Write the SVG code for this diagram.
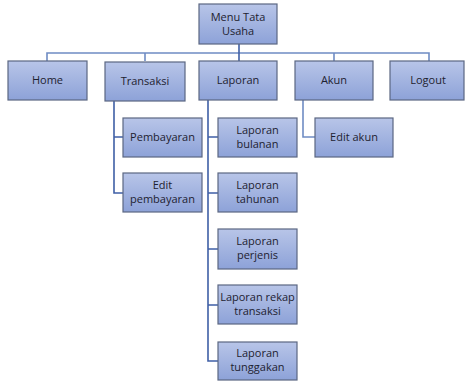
<svg xmlns="http://www.w3.org/2000/svg" width="465" height="381" viewBox="0 0 465 381">
<defs>
<linearGradient id="g" x1="0" y1="0" x2="0" y2="1">
<stop offset="0" stop-color="#b8c5e8"/>
<stop offset="1" stop-color="#8da2d8"/>
</linearGradient>
<style>
.box{fill:url(#g);stroke:#5b6782;stroke-width:1.2}
.t{font-family:"Open Sans","Liberation Sans",sans-serif;font-size:11px;fill:#1e2230;text-anchor:middle}
.c{fill:none;stroke:#6f8cc4;stroke-width:1.6}
.cd{fill:none;stroke:#3f5fa6;stroke-width:1.6}
</style>
</defs>
<rect width="465" height="381" fill="#ffffff"/>
<g id="connectors">
<path class="c" d="M47 61V53H429V61M145 53V61M334 53V61"/>
<path class="cd" d="M239 44V53M239 53V61"/>
<path class="cd" d="M114 101V137H123M114 137V193H123"/>
<path class="cd" d="M208 100V137H218M208 137V193H218M208 193V249H218M208 249V305H218M208 305V361H218"/>
<path class="c" d="M303 100V137H315"/>
</g>
<g id="n-menu"><rect class="box" x="199" y="4" width="78" height="40"/><text class="t" x="238" y="21">Menu Tata</text><text class="t" x="238" y="35">Usaha</text></g>
<g id="n-home"><rect class="box" x="8" y="61" width="79" height="39"/><text class="t" x="47.5" y="84">Home</text></g>
<g id="n-transaksi"><rect class="box" x="105" y="62" width="80" height="39"/><text class="t" x="145" y="85">Transaksi</text></g>
<g id="n-laporan"><rect class="box" x="199" y="61" width="78" height="39"/><text class="t" x="238" y="84">Laporan</text></g>
<g id="n-akun"><rect class="box" x="295" y="61" width="78" height="39"/><text class="t" x="334" y="84">Akun</text></g>
<g id="n-logout"><rect class="box" x="390" y="61" width="74" height="39"/><text class="t" x="428" y="84">Logout</text></g>
<g id="n-pembayaran"><rect class="box" x="123" y="118" width="79" height="39"/><text class="t" x="162.5" y="141">Pembayaran</text></g>
<g id="n-editpembayaran"><rect class="box" x="123" y="173" width="79" height="39"/><text class="t" x="162.5" y="189">Edit</text><text class="t" x="162.5" y="203">pembayaran</text></g>
<g id="n-bulanan"><rect class="box" x="218" y="118" width="79" height="39"/><text class="t" x="257.5" y="134">Laporan</text><text class="t" x="257.5" y="148">bulanan</text></g>
<g id="n-tahunan"><rect class="box" x="218" y="173" width="79" height="39"/><text class="t" x="257.5" y="189">Laporan</text><text class="t" x="257.5" y="203">tahunan</text></g>
<g id="n-perjenis"><rect class="box" x="218" y="229" width="79" height="40"/><text class="t" x="257.5" y="245">Laporan</text><text class="t" x="257.5" y="259">perjenis</text></g>
<g id="n-rekap"><rect class="box" x="218" y="285" width="79" height="39"/><text class="t" x="257.5" y="301">Laporan rekap</text><text class="t" x="257.5" y="315">transaksi</text></g>
<g id="n-tunggakan"><rect class="box" x="218" y="342" width="79" height="38"/><text class="t" x="257.5" y="357">Laporan</text><text class="t" x="257.5" y="371">tunggakan</text></g>
<g id="n-editakun"><rect class="box" x="315" y="118" width="78" height="39"/><text class="t" x="354" y="141">Edit akun</text></g>
</svg>
